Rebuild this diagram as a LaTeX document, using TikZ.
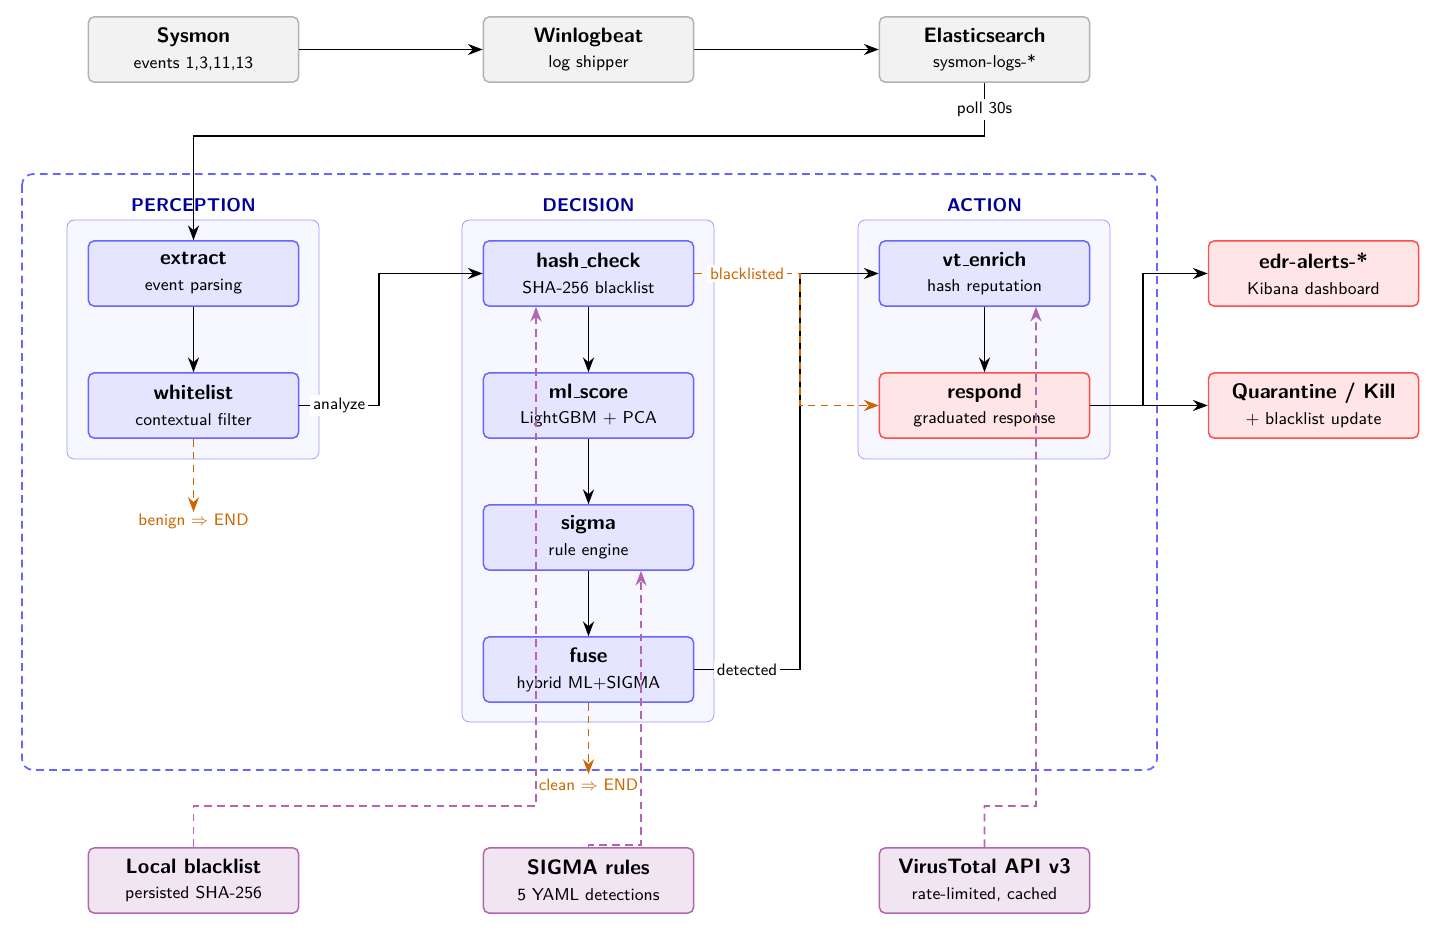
\documentclass[tikz,border=0pt]{standalone}
\usetikzlibrary{arrows.meta,calc}
\renewcommand{\familydefault}{\sfdefault}
\newcommand{\usc}{\kern.06em\vbox{\hrule width.3em height .4pt}}
\newcommand{\ttl}[1]{{\fontsize{11.3}{13.6}\selectfont\bfseries #1}}
\newcommand{\sbt}[1]{{\fontsize{9.3}{11}\selectfont #1}}
\begin{document}
\begin{tikzpicture}[x=0.01905cm,y=-0.01905cm,
  box/.style={rounded corners=3pt, minimum width=4cm, minimum height=1.24cm, align=center, line width=0.8pt, font=\sffamily},
  gbox/.style={box, draw=gray!60, fill=gray!10},
  bbox/.style={box, draw=blue!60, fill=blue!10},
  rbox/.style={box, draw=red!70, fill=red!10},
  pbox/.style={box, draw=violet!60, fill=violet!10},
  arr/.style={-{Stealth[length=8pt,width=6pt]}, line width=0.95pt, black},
  oarr/.style={-{Stealth[length=8pt,width=6pt]}, line width=0.95pt, orange!80!black, dash pattern=on 4.2pt off 2.8pt},
  parr/.style={-{Stealth[length=8pt,width=6pt]}, line width=0.95pt, violet!60, dash pattern=on 4.2pt off 2.8pt},
  lbl/.style={fill=white, inner sep=1.5pt, font=\sffamily\small},
  olbl/.style={lbl, text=orange!80!black},
  panel/.style={draw=blue!40, fill=blue!3, rounded corners=4pt},
  sect/.style={font=\sffamily\bfseries, text=blue!60!black}
]
\useasboundingbox (0,0) rectangle (1446,932);

% outer dashed region
\draw[blue!60, line width=0.95pt, dash pattern=on 4.2pt off 2.8pt, rounded corners=6pt] (22,174) rectangle (1157,770);

% panels
\draw[panel] (67,220) rectangle (319,459);
\draw[panel] (462,220) rectangle (714,722);
\draw[panel] (858,220) rectangle (1110,459);
\node[sect] (sp) at (193.5,205) {PERCEPTION};
\node[sect] (sd) at (588.5,205) {DECISION};
\node[sect] (sa) at (984.5,205) {ACTION};

% top
\node[gbox] (sysmon) at (193.5,49.5) {\ttl{Sysmon}\\[2pt]\sbt{events 1,3,11,13}};
\node[gbox] (winlog) at (588.5,49.5) {\ttl{Winlogbeat}\\[2pt]\sbt{log shipper}};
\node[gbox] (es) at (984.5,49.5) {\ttl{Elasticsearch}\\[2pt]\sbt{sysmon-logs-*}};

% perception
\node[bbox] (extract) at (193.5,273.5) {\ttl{extract}\\[2pt]\sbt{event parsing}};
\node[bbox] (wl) at (193.5,405.5) {\ttl{whitelist}\\[2pt]\sbt{contextual filter}};

% decision
\node[bbox] (hc) at (588.5,273.5) {\ttl{hash\usc check}\\[2pt]\sbt{SHA-256 blacklist}};
\node[bbox] (ml) at (588.5,405.5) {\ttl{ml\usc score}\\[2pt]\sbt{LightGBM + PCA}};
\node[bbox] (sigma) at (588.5,537.5) {\ttl{sigma}\\[2pt]\sbt{rule engine}};
\node[bbox] (fuse) at (588.5,669.5) {\ttl{fuse}\\[2pt]\sbt{hybrid ML+SIGMA}};

% action
\node[bbox] (vt) at (984.5,273.5) {\ttl{vt\usc enrich}\\[2pt]\sbt{hash reputation}};
\node[rbox] (resp) at (984.5,405.5) {\ttl{respond}\\[2pt]\sbt{graduated response}};

% outputs
\node[rbox] (edr) at (1313.5,273.5) {\ttl{edr-alerts-*}\\[2pt]\sbt{Kibana dashboard}};
\node[rbox] (quar) at (1313.5,405.5) {\ttl{Quarantine / Kill}\\[2pt]\sbt{+ blacklist update}};

% resources
\node[pbox] (lb) at (193.5,880.5) {\ttl{Local blacklist}\\[2pt]\sbt{persisted SHA-256}};
\node[pbox] (sr) at (588.5,880.5) {\ttl{SIGMA rules}\\[2pt]\sbt{5 YAML detections}};
\node[pbox] (vtapi) at (984.5,880.5) {\ttl{VirusTotal API v3}\\[2pt]\sbt{rate-limited, cached}};

% edges
\draw[arr] (sysmon) -- (winlog);
\draw[arr] (winlog) -- (es);
\draw[arr] (es.south) -- node[lbl]{poll 30s} (984.5,136) -| (extract.north);
\draw[arr] (extract) -- (wl);
\draw[arr] (wl.east) -- node[lbl]{analyze} (379,405.5) |- (hc.west);
\draw[oarr] (wl.south) -- (193.5,512);
\node[olbl, fill=none] (benign) at (193.5,521) {benign $\Rightarrow$ END};
\draw[arr] (hc) -- (ml);
\draw[arr] (ml) -- (sigma);
\draw[arr] (sigma) -- (fuse);
\draw[arr] (fuse.east) -- node[lbl]{detected} (800,669.5) |- (vt.west);
\draw[oarr] (hc.east) -- node[olbl]{blacklisted} (800,273.5) |- (resp.west);
\draw[arr] (vt) -- (resp);
\draw[arr] (resp.east) -- (1143,405.5) |- (edr.west);
\draw[arr] (resp) -- (quar);
\draw[oarr] (fuse.south) -- (588.5,774);
\node[olbl, fill=none] (clean) at (588.5,785) {clean $\Rightarrow$ END};

\draw[parr] (lb.north) |- (536,806) -- ($(hc.south)+(-52.5,0)$);
\draw[parr] (sr.north) -- ++(0,-2) -| ($(sigma.south)+(52.5,0)$);
\draw[parr] (vtapi.north) |- (1036,806) -- ($(vt.south)+(51.5,0)$);
\end{tikzpicture}
\end{document}
